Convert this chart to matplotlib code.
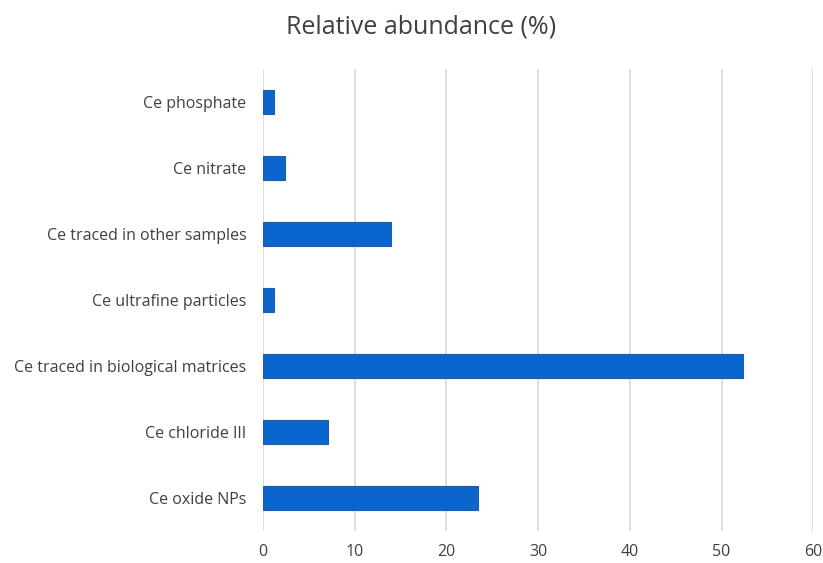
import matplotlib.pyplot as plt

categories = ['Ce oxide NPs', 'Ce chloride III', 'Ce traced in biological matrices',
              'Ce ultrafine particles', 'Ce traced in other samples', 'Ce nitrate',
              'Ce phosphate']
abundance = [23.4, 7.05, 52.35, 1.25, 14.0, 2.45, 1.25]
xticks = [0, 10, 20, 30, 40, 50, 60]

plt.rcParams['font.family'] = ['Open Sans', 'DejaVu Sans']

fig = plt.figure(figsize=(8.23, 5.63), dpi=100)
ax = fig.add_axes([0.3196, 0.0568, 0.6686, 0.8206])

ax.barh(range(len(categories)), abundance, height=0.35, color='#0A66CC',
        edgecolor='#1F5BA8', linewidth=0.8, zorder=3)

ax.set_xlim(0, 60)
ax.set_ylim(-0.5, len(categories) - 0.5)
ax.set_xticks(xticks)
ax.set_yticks(range(len(categories)))
ax.set_yticklabels(categories)
ax.grid(axis='x', color='#D9D9D9', linewidth=1.2, zorder=0)
ax.tick_params(length=0, labelsize=11.5, colors='#404040')
ax.tick_params(axis='y', pad=12)
ax.tick_params(axis='x', pad=9)
for s in ax.spines.values():
    s.set_visible(False)

fig.text(0.512, 0.952, 'Relative abundance (%)', ha='center', va='center',
         fontsize=18, color='#404040')

fig.savefig('out.png', dpi=100)
